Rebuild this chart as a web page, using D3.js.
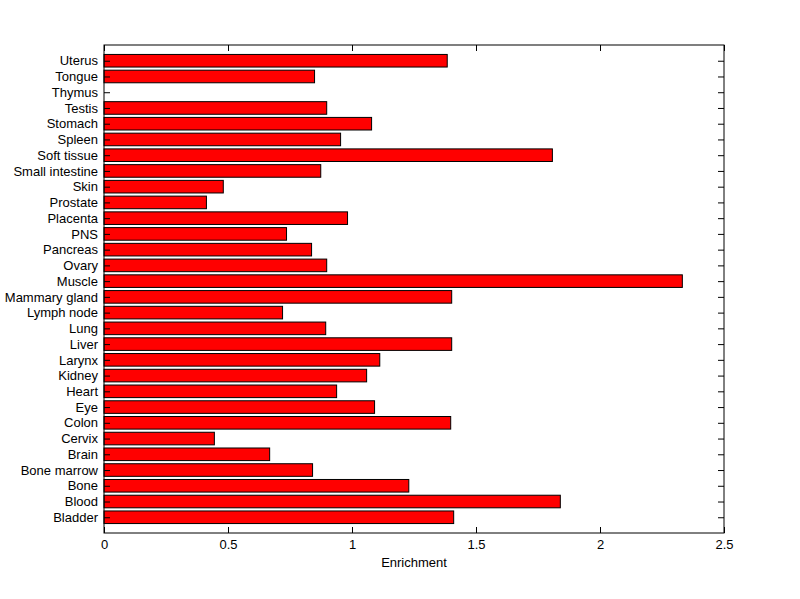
<!DOCTYPE html>
<html><head><meta charset="utf-8">
<script src="https://cdn.jsdelivr.net/npm/d3@7"></script>
<style>body{margin:0;background:#fff}svg{display:block}text{font-family:"Liberation Sans",Arial,sans-serif;}</style>
</head><body>
<svg id="c" width="800" height="599"></svg>
<script>
const categories = ["Bladder","Blood","Bone","Bone marrow","Brain","Cervix","Colon","Eye","Heart","Kidney","Larynx","Liver","Lung","Lymph node","Mammary gland","Muscle","Ovary","Pancreas","PNS","Placenta","Prostate","Skin","Small intestine","Soft tissue","Spleen","Stomach","Testis","Thymus","Tongue","Uterus"];
const enrichment = [1.410,1.840,1.229,0.841,0.668,0.445,1.398,1.091,0.938,1.059,1.112,1.402,0.894,0.720,1.402,2.332,0.898,0.837,0.736,0.982,0.413,0.481,0.874,1.808,0.954,1.079,0.898,0,0.849,1.384];
const xTicks = [0,0.5,1,1.5,2,2.5];
const xLabel = "Enrichment";

const svg = d3.select("#c");
const L=104, R=724, T=45, B=533;
const FS = 13;
const x = d3.scaleLinear().domain([0,2.5]).range([L,R]);
const y = d3.scaleLinear().domain([0,categories.length+1]).range([B,T]);
const step = Math.abs(y(1)-y(0));
const bw = step*0.8;

svg.append("rect").attr("x",L).attr("y",T).attr("width",R-L).attr("height",B-T).attr("fill","#fff");

svg.append("g").selectAll("rect").data(categories).join("rect")
  .attr("x",x(0)).attr("y",(d,i)=>y(i+1)-bw/2)
  .attr("width",(d,i)=>x(enrichment[i])-x(0)).attr("height",bw)
  .attr("fill",(d,i)=>enrichment[i]>0?"#ff0000":"none").attr("stroke",(d,i)=>enrichment[i]>0?"#000":"none").attr("stroke-width",1);

const yvals = categories.map((d,i)=>i+1);
const fmtY = v=>categories[v-1];
svg.append("g").attr("transform",`translate(${L},0)`)
  .call(d3.axisLeft(y).tickValues(yvals).tickFormat(fmtY).tickSizeInner(-6).tickSizeOuter(0).tickPadding(6))
  .call(g=>{g.select(".domain").remove();g.selectAll("text").attr("font-size",FS).attr("fill","#000");g.selectAll("line").attr("stroke","#000");});
svg.append("g").attr("transform",`translate(${R},0)`)
  .call(d3.axisRight(y).tickValues(yvals).tickFormat("").tickSizeInner(-6).tickSizeOuter(0))
  .call(g=>{g.select(".domain").remove();g.selectAll("line").attr("stroke","#000");});
svg.append("g").attr("transform",`translate(0,${B})`)
  .call(d3.axisBottom(x).tickValues(xTicks).tickFormat(d3.format("")).tickSizeInner(-6).tickSizeOuter(0).tickPadding(7))
  .call(g=>{g.select(".domain").remove();g.selectAll("text").attr("font-size",FS).attr("fill","#000");g.selectAll("line").attr("stroke","#000");});
svg.append("g").attr("transform",`translate(0,${T})`)
  .call(d3.axisTop(x).tickValues(xTicks).tickFormat("").tickSizeInner(-6).tickSizeOuter(0))
  .call(g=>{g.select(".domain").remove();g.selectAll("line").attr("stroke","#000");});

svg.append("rect").attr("x",L).attr("y",T).attr("width",R-L).attr("height",B-T).attr("fill","none").attr("stroke","#000").attr("stroke-width",1);

svg.append("text").attr("x",(L+R)/2).attr("y",567).attr("text-anchor","middle").attr("font-size",FS).text(xLabel);
</script>
</body></html>
